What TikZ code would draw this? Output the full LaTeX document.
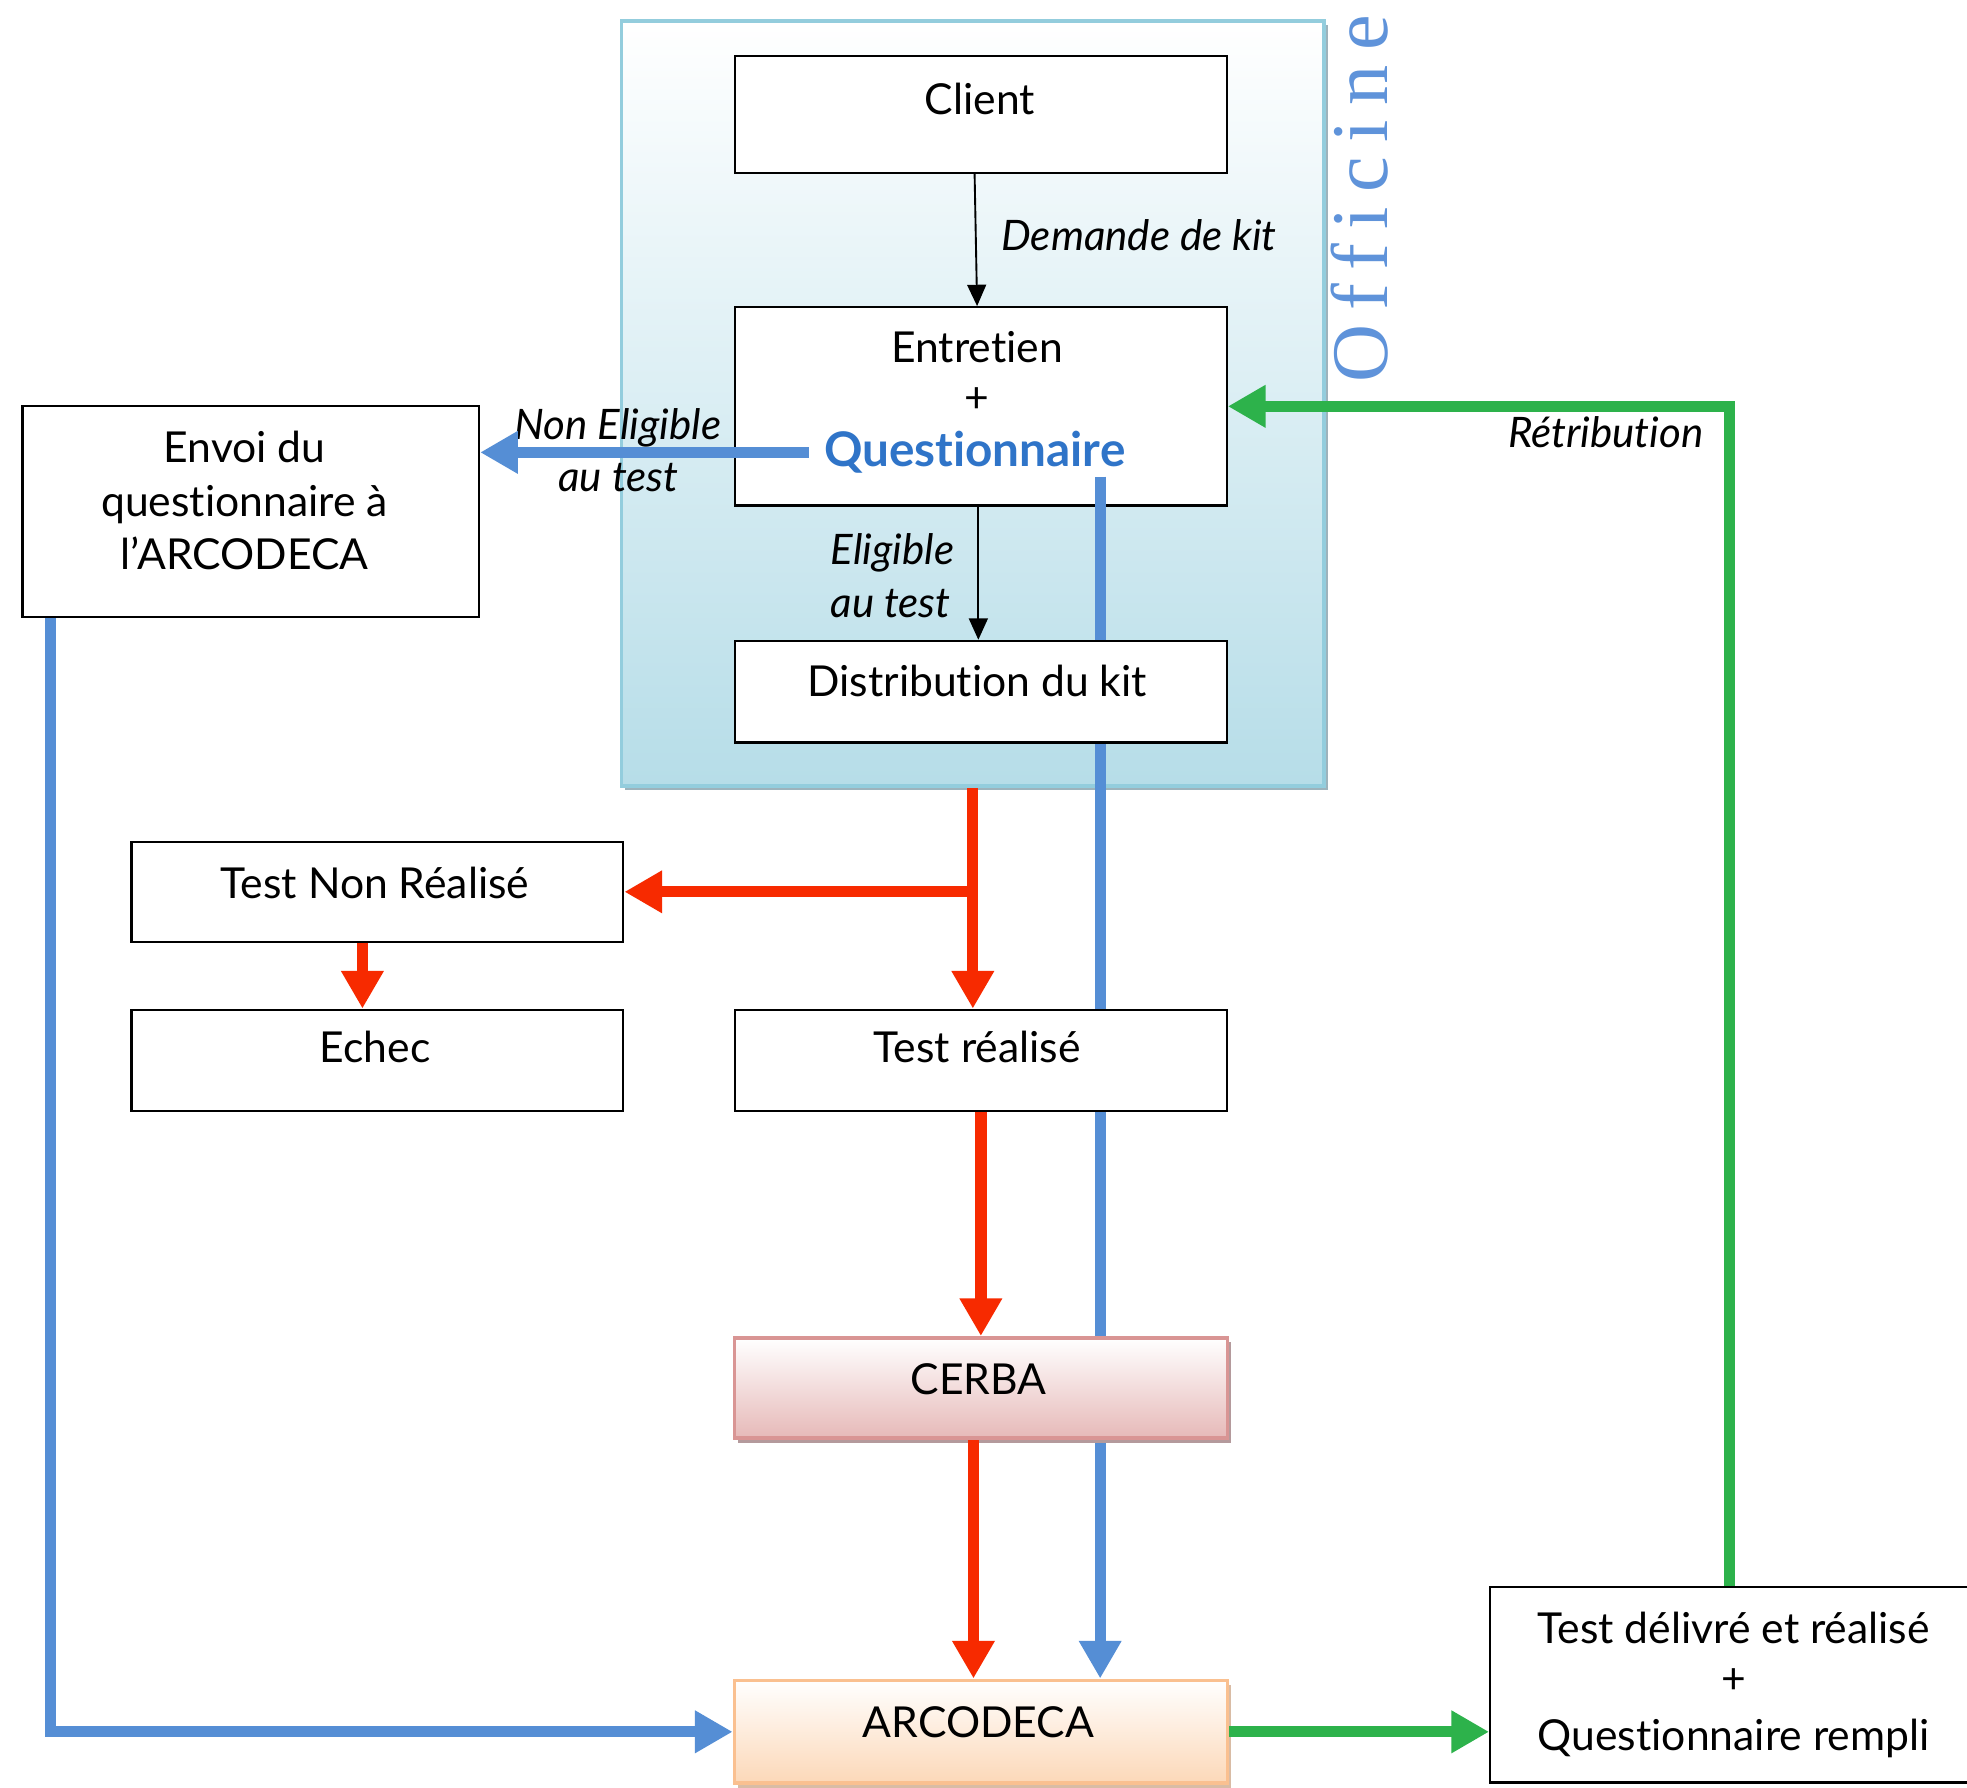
\documentclass[tikz,border=0pt]{standalone}
\usepackage{fontspec}
\setmainfont{Lato}[Ligatures=NoCommon]
\newfontfamily\offfont{Liberation Serif}[LetterSpace=18]
\usetikzlibrary{arrows.meta}
\pgfdeclarelayer{bg}
\pgfdeclarelayer{mid}
\pgfsetlayers{bg,mid,main}
\definecolor{offborder}{HTML}{93CDDD}
\definecolor{offfill}{HTML}{B6DDE8}
\definecolor{offmid}{HTML}{E2F1F5}
\definecolor{offshadow}{HTML}{9DB3BC}
\definecolor{qblue}{HTML}{2F74C8}
\definecolor{lblue}{HTML}{558ED5}
\definecolor{offtext}{HTML}{5F93DA}
\definecolor{fred}{HTML}{F72A00}
\definecolor{fgreen}{HTML}{2DB24B}
\definecolor{cerbaborder}{HTML}{D99594}
\definecolor{cerbafill}{HTML}{E6B9B8}
\definecolor{cerbashadow}{HTML}{B49A9C}
\definecolor{arcoborder}{HTML}{FAC090}
\definecolor{arcofill}{HTML}{FCD8B8}
\definecolor{arcoshadow}{HTML}{D9BCA5}
\tikzset{
  box/.style={draw=black, line width=1.8pt, fill=white, inner sep=0pt, rectangle, anchor=north west},
  t/.style={font=\fontsize{34}{40}\selectfont, inner sep=0pt, anchor=base},
  it/.style={font=\fontsize{33.5}{40}\selectfont\itshape, inner sep=0pt, anchor=base west},
  thin/.style={draw=black, line width=1.5pt, -{Triangle[width=15pt,length=17pt]}},
  fat/.style={line width=9pt, -{Triangle[width=32pt,length=30pt]}},
}
\begin{document}
\begin{tikzpicture}[x=1pt,y=-1pt]
\useasboundingbox (0,0) rectangle (1568,1425);
% Officine frame
\begin{pgfonlayer}{bg}
\fill[white] (0,0) rectangle (1568,1425);
\fill[offshadow] (498,20) rectangle (1059,630);
\node[draw=offborder, line width=3pt, top color=white, middle color=offmid, bottom color=offfill, minimum width=560pt, minimum height=610pt, anchor=north west, inner sep=0pt] (off) at (494,15) {};
\node[box, minimum width=392pt, minimum height=158pt] (ent) at (585,244) {};
\end{pgfonlayer}
\node[rotate=90, anchor=base west, inner sep=0pt, text=offtext, font=\offfont\fontsize{64}{70}\selectfont] (offlab) at (1106,305) {Officine};
% boxes
\node[box, minimum width=392pt, minimum height=93pt] (client) at (585,44) {};
\node[box, minimum width=392pt, minimum height=81pt] (dist) at (585,510) {};
\node[box, minimum width=364pt, minimum height=168pt] (envoi) at (17,323) {};
\node[box, minimum width=392pt, minimum height=80pt] (tnr) at (104,670) {};
\node[box, minimum width=392pt, minimum height=81pt] (echec) at (104,804) {};
\node[box, minimum width=392pt, minimum height=81pt] (tr) at (585,804) {};
\fill[cerbashadow] (588,1070) rectangle (981,1150);
\node[box, draw=cerbaborder, line width=3pt, top color=white, bottom color=cerbafill, minimum width=393pt, minimum height=80pt] (cerba) at (584,1065) {};
\fill[arcoshadow] (588,1343) rectangle (981,1425);
\node[box, draw=arcoborder, line width=3pt, top color=white, bottom color=arcofill, minimum width=393pt, minimum height=82pt] (arco) at (584,1338) {};
\node[box, minimum width=381pt, minimum height=156pt] (tdr) at (1187,1264) {};
% texts
\node[t] (tclient) at (781,91) {Client};
\node[it] (ldem) at (798,200) {Demande de kit};
\node[t] (tent) at (779,289) {Entretien};
\node[t] (tplus1) at (779,329) {+};
\node[t, font=\fontsize{38}{40}\selectfont\bfseries, text=qblue] (q) at (777,372) {Questionnaire};
\node[it] (lne1) at (410,350) {Non Eligible};
\node[it] (lne2) at (445,392) {au test};
\node[t] (tenv1) at (195,369) {Envoi du};
\node[t] (tenv2) at (195,412) {questionnaire à};
\node[t] (tenv3) at (195,454) {l’ARCODECA};
\node[it] (lel1) at (662,450) {Eligible};
\node[it] (lel2) at (662,492) {au test};
\node[t] (tdist) at (779,555) {Distribution du kit};
\node[t] (ttnr) at (299,716) {Test Non Réalisé};
\node[t] (techec) at (299,847) {Echec};
\node[t] (ttr) at (779,847) {Test réalisé};
\node[t] (tcerba) at (780,1112) {CERBA};
\node[t] (tarco) at (780,1385) {ARCODECA};
\node[t] (ttdr1) at (1382,1310) {Test délivré et réalisé};
\node[t] (ttdr2) at (1382,1350) {+};
\node[t] (ttdr3) at (1382,1395) {Questionnaire rempli};
\node[it] (lret) at (1202,357) {Rétribution};
% connectors
\draw[thin] ([xshift=-5pt]client.south) -- ([xshift=-3pt]ent.north);
\draw[thin] ([xshift=-2pt]ent.south) -- ([xshift=-2pt]dist.north);
\draw[fat, lblue] ([xshift=-12pt]q.west) -- (q.west -| envoi.east);
\draw[fat, fred] (off.south) -- (off.south |- tr.north);
\draw[fat, fred] (off.south |- tnr.east) -- (tnr.east);
\draw[fat, fred] ([xshift=-12pt]tnr.south) -- ([xshift=-12pt]echec.north);
\draw[fat, fred] (tr.south) -- (tr.south |- cerba.north);
\draw[fat, fred] ([xshift=-6pt]cerba.south) -- ([xshift=-6pt]arco.north);
\draw[fat, lblue] ([xshift=23pt]envoi.south west) |- (arco.west);
\draw[fat, fgreen] (arco.east) -- (arco.east -| tdr.west);
\draw[fat, fgreen] (tdr.north) |- (ent.east);
\coordinate (qd) at (877,380);
\begin{pgfonlayer}{mid}
\draw[fat, lblue] (qd) -- (qd |- arco.north);
\end{pgfonlayer}
\end{tikzpicture}
\end{document}
